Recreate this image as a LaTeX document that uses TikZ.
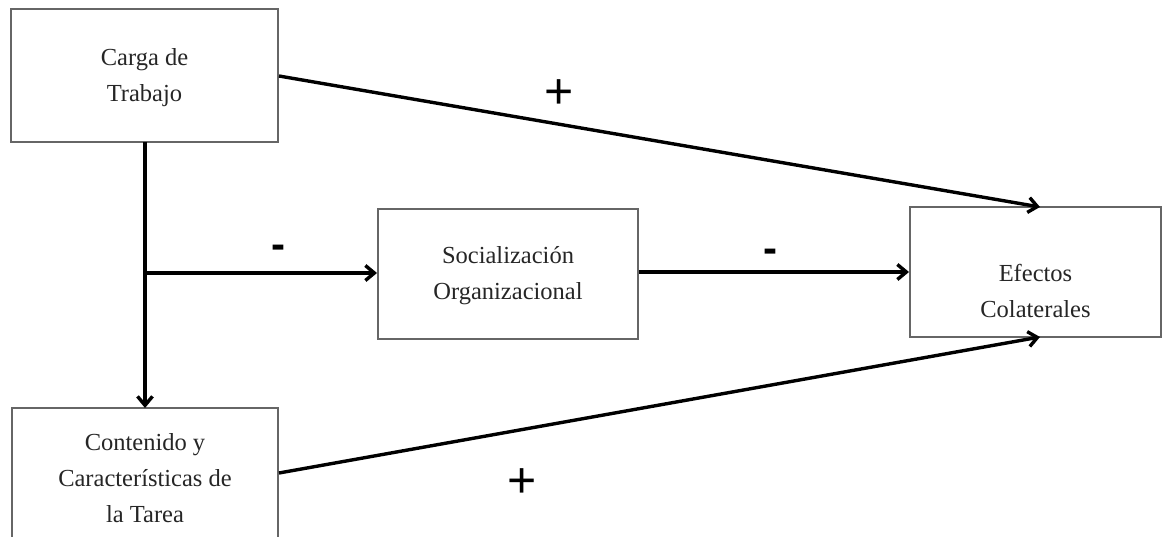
\documentclass[tikz,border=0pt]{standalone}
\usepackage{fontspec}
\setmainfont{Liberation Serif}
\newfontfamily\signfont{Liberation Sans}
\usetikzlibrary{arrows.meta}
\begin{document}
\begin{tikzpicture}[x=1pt,y=-1pt,
  box/.style={draw=black!60, line width=2pt, rectangle, inner sep=0pt},
  txt/.style={align=center, font=\fontsize{24.5}{36}\selectfont, inner sep=0pt, text=black!85},
  conn/.style={line width=3.4pt, -{Straight Barb[length=9pt,width=15pt,line width=3.4pt]}},
  plus/.style={font=\signfont\fontsize{50}{50}\selectfont, inner sep=0pt},
  minus/.style={font=\signfont\bfseries\fontsize{42}{42}\selectfont, inner sep=0pt}]
\useasboundingbox[fill=white] (0,0) rectangle (1163,537);
% boxes
\node[box, minimum width=267pt, minimum height=133pt] (carga) at (144.5,75.5) {};
\node[box, minimum width=266pt, minimum height=142pt] (cont) at (145,479) {};
\node[box, minimum width=260pt, minimum height=130pt] (soc) at (508,274) {};
\node[box, minimum width=251pt, minimum height=130pt] (efe) at (1035.5,272) {};
% texts
\node[txt] (tcarga) at (144.5,78) {Carga de\\Trabajo};
\node[txt] (tcont) at (145,478) {Contenido y\\Características de\\la Tarea};
\node[txt] (tsoc) at (508,276) {Socialización\\Organizacional};
\node[txt] (tefe) at (1035.5,291) {Efectos\\Colaterales};
% connector anchors
\coordinate (c1) at (carga.east |- 0,76);
\coordinate (e1) at (1040,207);
\coordinate (cb) at (145,142);
\coordinate (ct) at (145,408);
\coordinate (br) at (145,273);
\coordinate (sl) at (soc.west |- br);
\coordinate (sr) at (soc.east |- 0,272);
\coordinate (el) at (efe.west |- 0,272);
\coordinate (c2) at (cont.east |- 0,473);
\coordinate (e2) at (1040,337);
% connectors
\draw[conn] (c1) -- (e1);
\draw[conn] (cb) -- (ct);
\draw[conn] (br) -- (sl);
\draw[conn] (sr) -- (el);
\draw[conn] (c2) -- (e2);
% signs
\node[plus] (p1) at (559,94) {+};
\node[plus] (p2) at (522,483) {+};
\node[minus] (m1) at (278,252) {-};
\node[minus] (m2) at (770,256) {-};
\end{tikzpicture}
\end{document}
